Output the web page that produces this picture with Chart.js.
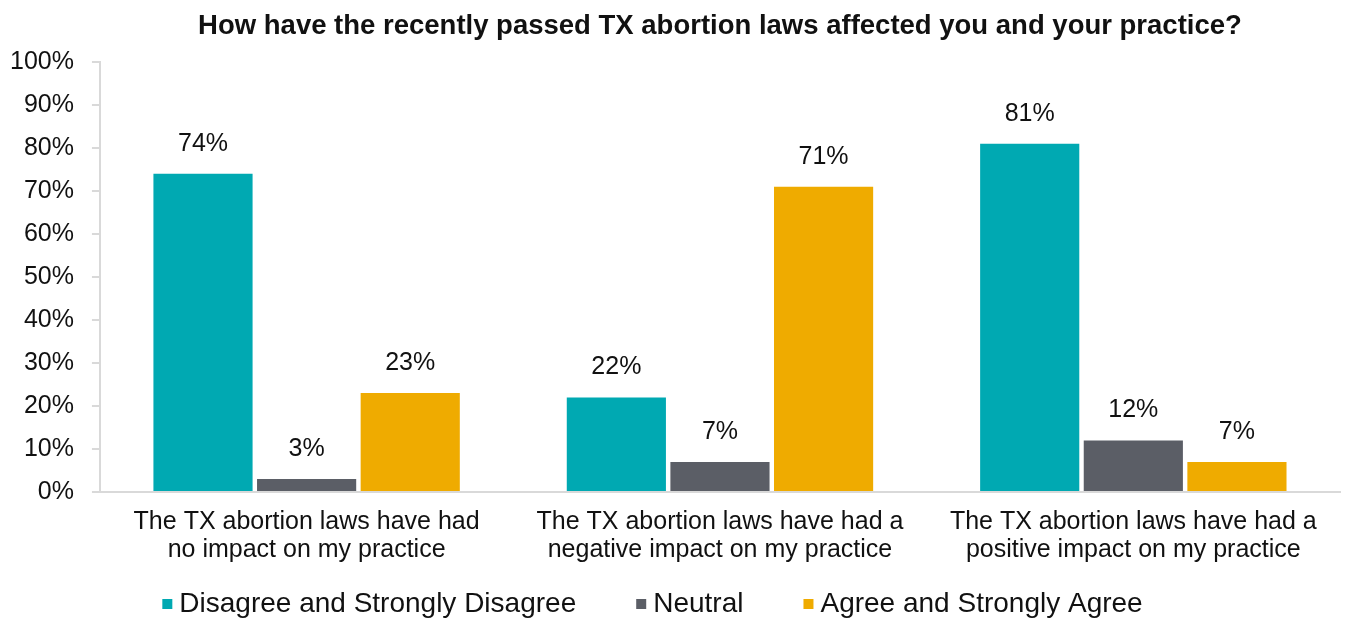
<!DOCTYPE html>
<html>
<head>
<meta charset="utf-8">
<script src="https://cdn.jsdelivr.net/npm/chart.js@4"></script>
<style>
  html, body { margin: 0; padding: 0; background: #fff; }
  #wrap { width: 1345px; height: 618px; }
</style>
</head>
<body>
<div id="wrap"><canvas id="abortionChart" width="1345" height="618"></canvas></div>
<script>
// Chart Data
const categories = [
  ["The TX abortion laws have had", "no impact on my practice"],
  ["The TX abortion laws have had a", "negative impact on my practice"],
  ["The TX abortion laws have had a", "positive impact on my practice"],
];
const seriesNames = ["Disagree and Strongly Disagree", "Neutral", "Agree and Strongly Agree"];
const disagreeValues = [74, 22, 81];
const neutralValues = [3, 7, 12];
const agreeValues = [23, 71, 7];
const yTicks = [0, 10, 20, 30, 40, 50, 60, 70, 80, 90, 100];

const colors = ["#00a9b2", "#5b5e66", "#efab00"];
const fontFamily = "'Liberation Sans', Arial, sans-serif";

// Value labels above each bar
const barLabels = {
  id: "barLabels",
  afterDatasetsDraw(chart) {
    const ctx = chart.ctx;
    ctx.save();
    ctx.fillStyle = "#111";
    ctx.font = "25px " + fontFamily;
    ctx.textAlign = "center";
    ctx.textBaseline = "middle";
    chart.data.datasets.forEach((ds, i) => {
      chart.getDatasetMeta(i).data.forEach((bar, j) => {
        ctx.fillText(ds.data[j] + "%", bar.x, bar.y - 30);
      });
    });
    ctx.restore();
  },
};

// Simple legend row at the bottom (square, small gap, text)
const bottomLegend = {
  id: "bottomLegend",
  afterDraw(chart) {
    const ctx = chart.ctx;
    const box = 10, gap = 7, spacing = 60;
    ctx.save();
    ctx.font = "28px " + fontFamily;
    ctx.textBaseline = "middle";
    const items = chart.data.datasets.map((ds) => ({
      text: ds.label,
      color: ds.backgroundColor,
      w: box + gap + ctx.measureText(ds.label).width,
    }));
    const total = items.reduce((s, it) => s + it.w, 0) + spacing * (items.length - 1);
    let x = chart.width / 2 - 20 - total / 2;
    const y = chart.height - 14;
    items.forEach((it) => {
      ctx.fillStyle = it.color;
      ctx.fillRect(x, y - box / 2, box, box);
      ctx.fillStyle = "#111";
      ctx.fillText(it.text, x + box + gap, y);
      x += it.w + spacing;
    });
    ctx.restore();
  },
};

const ctx = document.getElementById("abortionChart").getContext("2d");
const abortionChart = new Chart(ctx, {
  type: "bar",
  data: {
    labels: categories,
    datasets: [
      { label: seriesNames[0], data: disagreeValues, backgroundColor: colors[0] },
      { label: seriesNames[1], data: neutralValues, backgroundColor: colors[1] },
      { label: seriesNames[2], data: agreeValues, backgroundColor: colors[2] },
    ],
  },
  options: {
    responsive: false,
    animation: false,
    layout: { padding: { left: 10, right: 5, top: 0, bottom: 38 } },
    datasets: {
      bar: { barPercentage: 0.957, categoryPercentage: 0.752 },
    },
    plugins: {
      title: {
        display: true,
        fullSize: false,
        text: "How have the recently passed TX abortion laws affected you and your practice?",
        color: "#111",
        font: { family: fontFamily, size: 27.5, weight: "bold" },
        padding: { top: 10, bottom: 19 },
      },
      legend: { display: false },
      tooltip: { enabled: false },
    },
    scales: {
      x: {
        grid: { display: false, drawTicks: false },
        border: { color: "#d9d9d9", width: 2 },
        ticks: {
          color: "#111",
          font: { family: fontFamily, size: 25, lineHeight: 1.12 },
          padding: 16,
          maxRotation: 0,
        },
      },
      y: {
        min: 0,
        max: 100,
        afterBuildTicks: (axis) => { axis.ticks = yTicks.map((v) => ({ value: v })); },
        afterFit: (axis) => { axis.width -= 18; },
        grid: { drawOnChartArea: false, color: "#d9d9d9", tickLength: 8, lineWidth: 2 },
        border: { color: "#d9d9d9", width: 2 },
        ticks: {
          color: "#111",
          font: { family: fontFamily, size: 25 },
          padding: 18,
          callback: (v) => v + "%",
        },
      },
    },
  },
  plugins: [barLabels, bottomLegend],
});
</script>
</body>
</html>
